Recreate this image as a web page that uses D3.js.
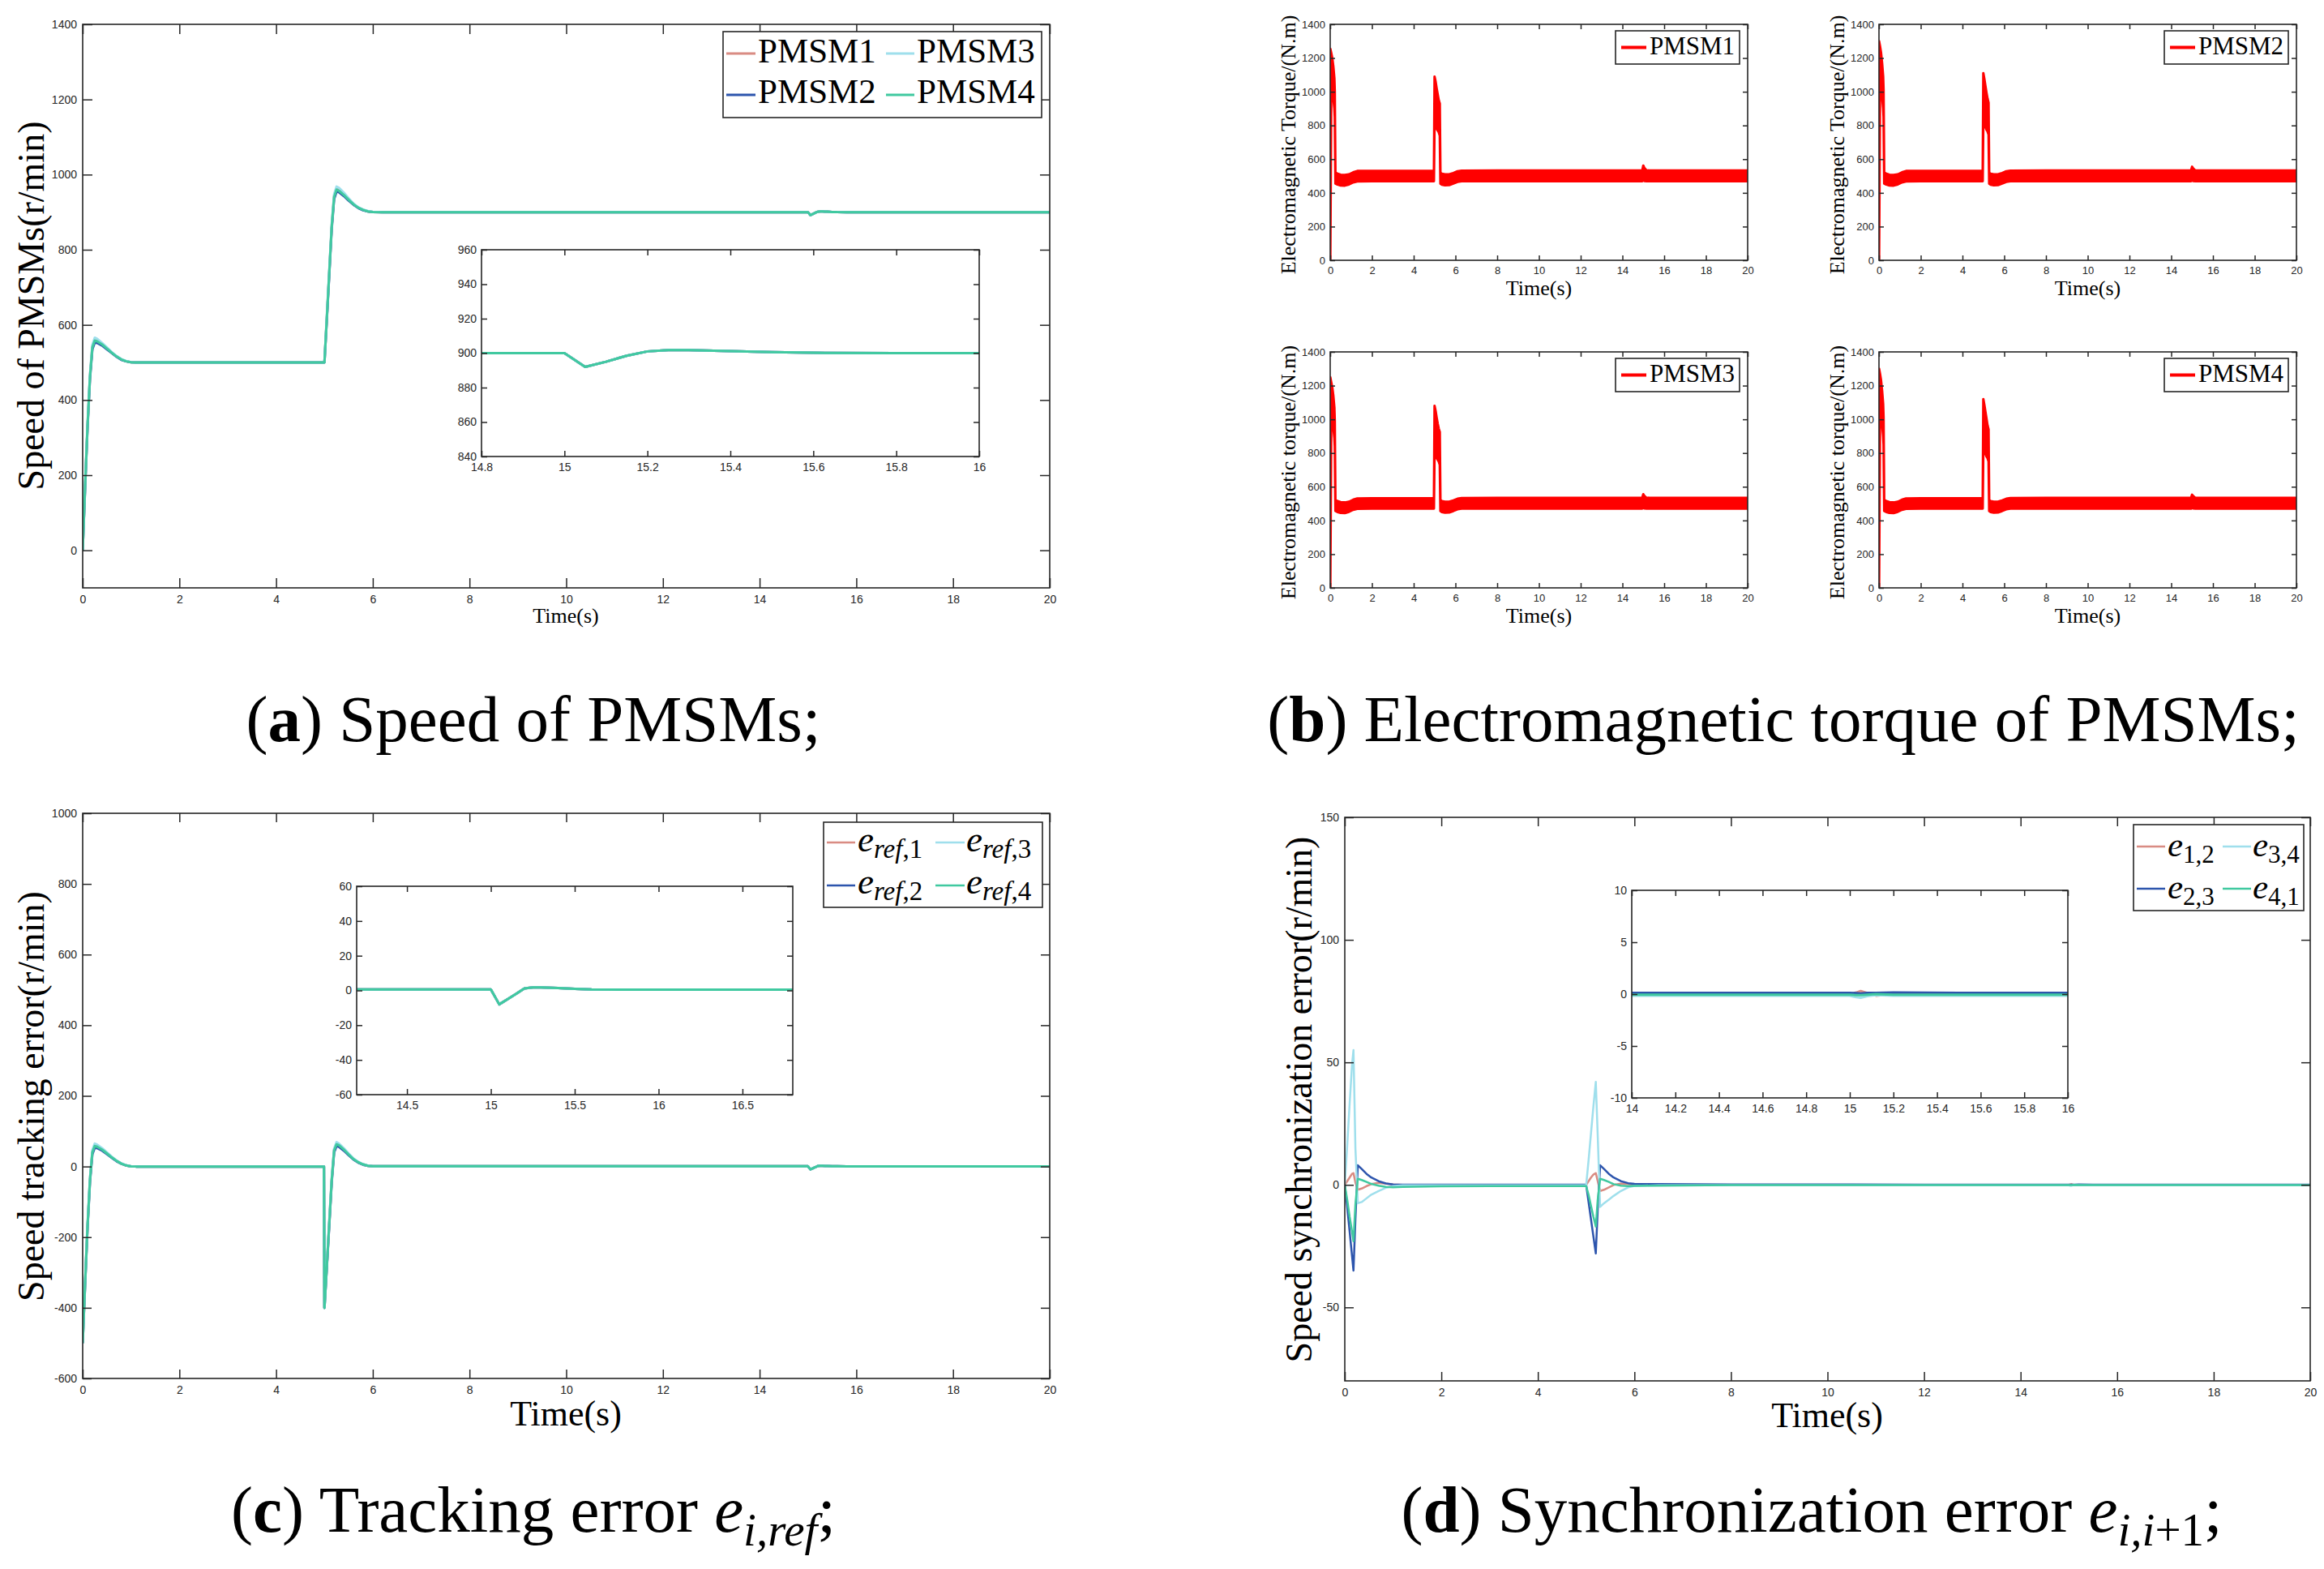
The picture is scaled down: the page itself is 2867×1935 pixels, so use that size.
<!DOCTYPE html>
<html>
<head>
<meta charset="utf-8">
<script src="https://cdn.jsdelivr.net/npm/d3@7"></script>
<style>
html, body { margin: 0; padding: 0; background: #fff; }
svg { display: block; }
</style>
</head>
<body>
<svg id="fig" width="2867" height="1935"></svg>
<script>
// ---- data ----

// (a) speed of the four motors, r/min
const speedTime = [0, 0.05, 0.1, 0.15, 0.2, 0.25, 0.3, 0.4, 0.5, 0.6, 0.7, 0.8, 0.9, 1.0, 1.1, 1.2, 2, 3, 4, 5,
  5.05, 5.1, 5.15, 5.2, 5.25, 5.3, 5.4, 5.5, 5.6, 5.7, 5.8, 5.9, 6.0, 6.2, 8, 10, 12, 14, 14.8,
  15, 15.05, 15.1, 15.15, 15.2, 15.25, 15.3, 15.4, 15.5, 15.6, 15.8, 16, 18, 20];
const speedPmsm1 = [0, 170, 330, 462, 542, 561, 559, 549, 538, 526, 516, 508, 503, 500.5, 500, 500, 500, 500, 500, 500,
  620, 740, 862, 943, 963, 960, 948, 934, 921, 912, 906, 902, 900.5, 900, 900, 900, 900, 900, 900,
  900, 892, 895, 898.5, 901, 901.8, 901.8, 901.2, 900.6, 900.2, 900, 900, 900, 900];
const speedPmsm2 = [0, 165, 325, 455, 535, 553, 552, 545, 535, 525, 515, 507, 503, 500.5, 500, 500, 500, 500, 500, 500,
  615, 735, 855, 935, 955, 953, 943, 931, 920, 911, 905, 902, 900.5, 900, 900, 900, 900, 900, 900,
  900, 892, 895, 898.5, 901, 901.8, 901.8, 901.2, 900.6, 900.2, 900, 900, 900, 900];
const speedPmsm3 = [0, 175, 335, 466, 547, 566, 563, 552, 540, 528, 517, 509, 504, 500.8, 500, 500, 500, 500, 500, 500,
  625, 745, 867, 948, 968, 965, 952, 937, 923, 913, 907, 903, 901, 900, 900, 900, 900, 900, 900,
  900, 892, 895, 898.5, 901, 901.8, 901.8, 901.2, 900.6, 900.2, 900, 900, 900, 900];
const speedPmsm4 = [0, 170, 330, 460, 540, 558, 556, 548, 537, 526, 516, 508, 503, 500.5, 500, 500, 500, 500, 500, 500,
  620, 740, 860, 940, 960, 957, 946, 933, 921, 912, 906, 902, 900.5, 900, 900, 900, 900, 900, 900,
  900, 892, 895, 898.5, 901, 901.8, 901.8, 901.2, 900.6, 900.2, 900, 900, 900, 900];

// (b) electromagnetic torque: lower / upper edge of the ripple band, N.m
const torqueTime = [0, 0.005, 0.05, 0.1, 0.15, 0.2, 0.22, 0.25, 0.35, 0.5, 0.7, 0.9, 1.1, 1.3, 2, 3, 4, 4.97,
  5.0, 5.05, 5.1, 5.15, 5.2, 5.25, 5.28, 5.35, 5.5, 5.7, 5.9, 6.1, 6.3, 8, 10, 12, 14,
  14.95, 15.0, 15.05, 15.15, 15.3, 16, 18, 20];
const torqueUpper1 = [1255, 1255, 1230, 1200, 1150, 1080, 1000, 520, 514, 508, 506, 510, 522, 530, 531, 531, 531, 531,
  1090, 1060, 1020, 985, 950, 930, 520, 514, 510, 510, 518, 528, 532, 533, 533, 533, 533,
  533, 562, 548, 534, 533, 533, 533, 533];
const torqueLower1 = [0, 0, 960, 990, 960, 900, 850, 455, 449, 444, 443, 450, 462, 468, 469, 469, 469, 469,
  820, 800, 780, 770, 760, 740, 455, 449, 445, 446, 455, 465, 469, 469, 469, 469, 469,
  469, 480, 470, 469, 469, 469, 469, 469];
const torqueUpper2 = [1300, 1300, 1270, 1230, 1170, 1090, 1010, 520, 514, 508, 506, 510, 522, 530, 531, 531, 531, 531,
  1110, 1075, 1035, 995, 960, 935, 520, 514, 510, 510, 518, 528, 532, 533, 533, 533, 533,
  533, 555, 545, 534, 533, 533, 533, 533];
const torqueLower2 = [0, 0, 980, 1000, 970, 900, 850, 455, 449, 444, 443, 450, 462, 468, 469, 469, 469, 469,
  830, 810, 790, 775, 765, 745, 455, 449, 445, 446, 455, 465, 469, 469, 469, 469, 469,
  469, 478, 470, 469, 469, 469, 469, 469];
const torqueUpper3 = [1250, 1250, 1220, 1190, 1140, 1070, 990, 522, 515, 509, 507, 511, 523, 531, 532, 532, 532, 532,
  1080, 1050, 1010, 975, 945, 925, 522, 515, 511, 511, 519, 529, 533, 534, 534, 534, 534,
  534, 556, 546, 535, 534, 534, 534, 534];
const torqueLower3 = [0, 0, 950, 980, 950, 890, 840, 456, 450, 445, 444, 451, 463, 469, 470, 470, 470, 470,
  810, 790, 770, 760, 750, 730, 456, 450, 446, 447, 456, 466, 470, 470, 470, 470, 470,
  470, 480, 471, 470, 470, 470, 470, 470];
const torqueUpper4 = [1300, 1300, 1270, 1230, 1170, 1090, 1010, 521, 515, 509, 507, 511, 523, 531, 532, 532, 532, 532,
  1120, 1085, 1045, 1005, 965, 940, 521, 515, 511, 511, 519, 529, 533, 534, 534, 534, 534,
  534, 553, 545, 535, 534, 534, 534, 534];
const torqueLower4 = [0, 0, 980, 1000, 970, 900, 850, 456, 450, 445, 444, 451, 463, 469, 470, 470, 470, 470,
  840, 815, 795, 780, 770, 750, 456, 450, 446, 447, 456, 466, 470, 470, 470, 470, 470,
  470, 479, 471, 470, 470, 470, 470, 470];

// (c) tracking error, r/min
const trackTime = [0, 0.05, 0.1, 0.15, 0.2, 0.25, 0.3, 0.4, 0.5, 0.6, 0.7, 0.8, 0.9, 1.0, 1.1, 1.2, 2, 3, 4, 4.99,
  5, 5.05, 5.1, 5.15, 5.2, 5.25, 5.3, 5.4, 5.5, 5.6, 5.7, 5.8, 5.9, 6.0, 6.2, 8, 10, 12, 14,
  15, 15.05, 15.1, 15.15, 15.2, 15.25, 15.3, 15.4, 15.5, 15.6, 15.8, 16, 18, 20];
const eRef1 = [-500, -330, -170, -38, 42, 60, 58, 49, 38, 26, 16, 8, 3, 0.5, 0, 0, 0, 0, 0, 0,
  -400, -280, -160, -38, 47, 65, 61, 49, 34, 21, 12, 6, 2, 0.8, 0.6, 0.6, 0.6, 0.6, 0.6,
  0.6, -8, -5, -2, 1.2, 1.8, 1.8, 1.4, 0.9, 0.6, 0.5, 0.5, 0.5, 0.5];
const eRef2 = [-500, -335, -175, -45, 35, 53, 52, 45, 35, 25, 15, 8, 3, 0.5, 0, 0, 0, 0, 0, 0,
  -400, -285, -165, -45, 40, 58, 56, 45, 32, 20, 11, 5, 2, 0.8, 0.6, 0.6, 0.6, 0.6, 0.6,
  0.6, -8, -5, -2, 1.2, 1.8, 1.8, 1.4, 0.9, 0.6, 0.5, 0.5, 0.5, 0.5];
const eRef3 = [-500, -325, -165, -35, 46, 65, 62, 52, 40, 28, 17, 9, 3.5, 0.8, 0, 0, 0, 0, 0, 0,
  -400, -275, -155, -33, 50, 69, 65, 52, 37, 23, 13, 6.5, 2.5, 1, 0.6, 0.6, 0.6, 0.6, 0.6,
  0.6, -8, -5, -2, 1.2, 1.8, 1.8, 1.4, 0.9, 0.6, 0.5, 0.5, 0.5, 0.5];
const eRef4 = [-500, -330, -170, -40, 40, 58, 56, 48, 37, 26, 16, 8, 3, 0.5, 0, 0, 0, 0, 0, 0,
  -400, -280, -160, -40, 45, 63, 60, 48, 34, 21, 12, 6, 2, 0.8, 0.6, 0.6, 0.6, 0.6, 0.6,
  0.6, -8, -5, -2, 1.2, 1.8, 1.8, 1.4, 0.9, 0.6, 0.5, 0.5, 0.5, 0.5];

// (d) synchronization error, r/min
const syncTime = [0, 0.05, 0.1, 0.15, 0.18, 0.22, 0.27, 0.35, 0.45, 0.55, 0.7, 0.85, 1.0, 1.2, 2, 3, 4, 5,
  5.05, 5.1, 5.15, 5.2, 5.24, 5.29, 5.37, 5.47, 5.57, 5.72, 5.87, 6.0, 6.5, 8, 10, 12, 14,
  14.5, 15, 15.03, 15.05, 15.08, 15.12, 15.2, 15.5, 16, 18, 20];
const e12 = [0, 1.5, 3, 4.5, 4.8, 1, -2, -1.5, -0.5, 0.3, 0.8, 0.5, 0.2, 0, 0, 0, 0, 0,
  1.5, 3, 4.2, 4.8, 1.5, -2.5, -2, -1, 0, 0.5, 0.3, 0.1, 0, 0, 0, 0, 0,
  0, 0, 0.15, 0.3, 0.1, -0.15, 0, 0, 0, 0, 0];
const e23 = [0, -9, -19, -29, -35, -14, 8, 6.5, 4.5, 3, 1.5, 0.6, 0.2, 0.1, 0.1, 0.1, 0.1, 0.1,
  -7, -14, -21, -28, -10, 8, 6.5, 4.5, 3, 1.5, 0.7, 0.4, 0.3, 0.2, 0.15, 0.12, 0.12,
  0.12, 0.12, 0.1, 0.05, 0.12, 0.12, 0.15, 0.12, 0.12, 0.1, 0.1];
const e34 = [0, 16, 33, 49, 55, 15, -7.5, -7, -5.5, -4, -2.5, -1.2, -0.5, -0.2, -0.2, -0.2, -0.2, -0.2,
  10, 21, 32, 42, 20, -9, -7.5, -6, -4.5, -2.5, -1, -0.4, -0.2, -0.15, -0.15, -0.15, -0.15,
  -0.15, -0.15, -0.3, -0.35, -0.2, -0.1, -0.15, -0.15, -0.15, -0.15, -0.15];
const e41 = [0, -6, -13, -19, -23, -8, 2.5, 2, 1.2, 0.4, -0.3, -0.8, -1, -0.8, -0.6, -0.5, -0.5, -0.5,
  -4, -8.5, -13, -17, -6, 2.5, 2, 1.2, 0.3, -0.3, -0.5, -0.4, -0.3, -0.1, -0.05, -0.05, -0.05,
  -0.05, -0.05, -0.1, -0.1, -0.05, 0, -0.05, -0.05, -0.05, -0.05, -0.05];

// tick values
const timeTicks = [0, 2, 4, 6, 8, 10, 12, 14, 16, 18, 20];
const speedTicks = [0, 200, 400, 600, 800, 1000, 1200, 1400];
const speedInsetX = [14.8, 15, 15.2, 15.4, 15.6, 15.8, 16];
const speedInsetY = [840, 860, 880, 900, 920, 940, 960];
const torqueTicks = [0, 200, 400, 600, 800, 1000, 1200, 1400];
const trackTicks = [-600, -400, -200, 0, 200, 400, 600, 800, 1000];
const trackInsetX = [14.5, 15, 15.5, 16, 16.5];
const trackInsetY = [-60, -40, -20, 0, 20, 40, 60];
const syncTicks = [-50, 0, 50, 100, 150];
const syncInsetX = [14, 14.2, 14.4, 14.6, 14.8, 15, 15.2, 15.4, 15.6, 15.8, 16];
const syncInsetY = [-10, -5, 0, 5, 10];

// labels
const speedNames = ['PMSM1', 'PMSM2', 'PMSM3', 'PMSM4'];
const torqueNames = ['PMSM1', 'PMSM2', 'PMSM3', 'PMSM4'];
const torqueYLabels = ['Electromagnetic  Torque/(N.m)', 'Electromagnetic  Torque/(N.m)',
  'Electromagnetic  torque/(N.m)', 'Electromagnetic  torque/(N.m)'];
const trackNames = [
  [{t: 'e', i: 1}, {t: 'ref', i: 1, s: 1}, {t: ',1', s: 1}],
  [{t: 'e', i: 1}, {t: 'ref', i: 1, s: 1}, {t: ',2', s: 1}],
  [{t: 'e', i: 1}, {t: 'ref', i: 1, s: 1}, {t: ',3', s: 1}],
  [{t: 'e', i: 1}, {t: 'ref', i: 1, s: 1}, {t: ',4', s: 1}]
];
const syncNames = [
  [{t: 'e', i: 1}, {t: '1,2', s: 1}],
  [{t: 'e', i: 1}, {t: '2,3', s: 1}],
  [{t: 'e', i: 1}, {t: '3,4', s: 1}],
  [{t: 'e', i: 1}, {t: '4,1', s: 1}]
];
const captions = [
  [{t: '('}, {t: 'a', b: 1}, {t: ') Speed of PMSMs;'}],
  [{t: '('}, {t: 'b', b: 1}, {t: ') Electromagnetic torque of PMSMs;'}],
  [{t: '('}, {t: 'c', b: 1}, {t: ') Tracking error '}, {t: 'e', i: 1}, {t: 'i,ref', i: 1, s: 1}, {t: ';'}],
  [{t: '('}, {t: 'd', b: 1}, {t: ') Synchronization error '}, {t: 'e', i: 1}, {t: 'i,i', i: 1, s: 1}, {t: '+1', s: 1}, {t: ';'}]
];

// ---- styles ----
const AX = '#262626';
const SANS = '"Liberation Sans", Arial, sans-serif';
const SERIF = '"Liberation Serif", "Times New Roman", serif';
const colors = ['#d98c83', '#2d55ad', '#9fdfec', '#40c9a0'];
const RED = '#ff0000';

const svg = d3.select('#fig');
svg.append('rect').attr('width', 2867).attr('height', 1935).attr('fill', '#fff');

let clipCount = 0;

function styleAxis(sel, fs) {
  sel.select('.domain').remove();
  sel.selectAll('.tick line').attr('stroke', AX).attr('stroke-width', 1.5);
  sel.selectAll('.tick text').attr('fill', AX).attr('font-size', fs).attr('font-family', SANS);
}

function drawAxes(box, o) {
  const g = svg.append('g');
  const x = d3.scaleLinear().domain(o.xDomain).range([box.x, box.x + box.w]);
  const y = d3.scaleLinear().domain(o.yDomain).range([box.y + box.h, box.y]);
  g.append('rect').attr('x', box.x).attr('y', box.y).attr('width', box.w).attr('height', box.h).attr('fill', '#fff');
  const id = 'clip' + (clipCount++);
  g.append('clipPath').attr('id', id).append('rect')
    .attr('x', box.x).attr('y', box.y).attr('width', box.w).attr('height', box.h);
  const plot = g.append('g').attr('clip-path', `url(#${id})`);
  const axes = g.append('g');
  const fmt = d => String(d);
  const none = () => '';
  axes.append('g').attr('transform', `translate(0,${box.y + box.h})`)
    .call(d3.axisBottom(x).tickValues(o.xTicks).tickFormat(fmt).tickSizeInner(-o.tick).tickSizeOuter(0).tickPadding(o.xPad))
    .call(styleAxis, o.fs);
  axes.append('g').attr('transform', `translate(0,${box.y})`)
    .call(d3.axisTop(x).tickValues(o.xTicks).tickFormat(none).tickSizeInner(-o.tick).tickSizeOuter(0))
    .call(styleAxis, o.fs);
  axes.append('g').attr('transform', `translate(${box.x},0)`)
    .call(d3.axisLeft(y).tickValues(o.yTicks).tickFormat(fmt).tickSizeInner(-o.tick).tickSizeOuter(0).tickPadding(o.yPad))
    .call(styleAxis, o.fs);
  axes.append('g').attr('transform', `translate(${box.x + box.w},0)`)
    .call(d3.axisRight(y).tickValues(o.yTicks).tickFormat(none).tickSizeInner(-o.tick).tickSizeOuter(0))
    .call(styleAxis, o.fs);
  axes.append('rect').attr('x', box.x).attr('y', box.y).attr('width', box.w).attr('height', box.h)
    .attr('fill', 'none').attr('stroke', AX).attr('stroke-width', 1.6);
  return {x, y, plot};
}

function drawLines(ax, time, seriesList, width) {
  const line = d3.line().x(d => ax.x(d[0])).y(d => ax.y(d[1]));
  seriesList.forEach((vals, i) => {
    ax.plot.append('path').datum(d3.zip(time, vals))
      .attr('d', line).attr('fill', 'none')
      .attr('stroke', colors[i]).attr('stroke-width', width)
      .attr('stroke-linejoin', 'round');
  });
}

function richText(sel, parts, size, subSize, shift) {
  let down = false;
  parts.forEach(p => {
    const ts = sel.append('tspan').text(p.t).attr('font-size', p.s ? subSize : size);
    if (p.i) ts.attr('font-style', 'italic');
    if (p.b) ts.attr('font-weight', 'bold');
    if (p.s && !down) { ts.attr('dy', shift); down = true; }
    else if (!p.s && down) { ts.attr('dy', -shift); down = false; }
  });
}

function yLabel(cx, cy, label, size) {
  svg.append('text').attr('transform', `translate(${cx},${cy}) rotate(-90)`)
    .attr('text-anchor', 'middle').attr('dy', '0.35em')
    .attr('font-family', SERIF).attr('font-size', size).attr('fill', '#000').text(label);
}

function xLabel(cx, by, label, size) {
  svg.append('text').attr('x', cx).attr('y', by).attr('text-anchor', 'middle')
    .attr('font-family', SERIF).attr('font-size', size).attr('fill', '#000').text(label);
}

// legend with two columns, filled column by column
function legend2(box, items, lay) {
  const g = svg.append('g');
  g.append('rect').attr('x', box.x).attr('y', box.y).attr('width', box.w).attr('height', box.h)
    .attr('fill', '#fff').attr('stroke', AX).attr('stroke-width', 1.6);
  items.forEach((label, i) => {
    const col = Math.floor(i / 2), row = i % 2;
    const lx = lay.lineX[col], ly = lay.lineY[row];
    g.append('line').attr('x1', lx[0]).attr('x2', lx[1]).attr('y1', ly).attr('y2', ly)
      .attr('stroke', colors[i]).attr('stroke-width', lay.lw);
    const t = g.append('text').attr('x', lay.textX[col]).attr('y', lay.textY[row])
      .attr('font-family', SERIF).attr('fill', '#000');
    if (typeof label === 'string') t.attr('font-size', lay.fs).text(label);
    else richText(t, label, lay.fs, lay.subFs, lay.shift);
  });
}

// ---- (a) speed ----
const boxA = {x: 102, y: 30, w: 1193, h: 695};
const axA = drawAxes(boxA, {xDomain: [0, 20], yDomain: [-100, 1400], xTicks: timeTicks, yTicks: speedTicks,
  tick: 12, fs: 14, xPad: 9, yPad: 7});
const speedSeries = [speedPmsm1, speedPmsm2, speedPmsm3, speedPmsm4];
drawLines(axA, speedTime, speedSeries, 3);
const axAi = drawAxes({x: 594, y: 308, w: 614, h: 255}, {xDomain: [14.8, 16], yDomain: [840, 960],
  xTicks: speedInsetX, yTicks: speedInsetY, tick: 7, fs: 14, xPad: 8, yPad: 6});
drawLines(axAi, speedTime, speedSeries, 3);
legend2({x: 892, y: 39, w: 393, h: 106}, speedNames, {
  lineX: [[896, 932], [1093, 1128]], lineY: [66, 117], textX: [935, 1131], textY: [77, 127], fs: 43, lw: 3
});
yLabel(38, 377, 'Speed of PMSMs(r/min)', 46);
xLabel(698, 768, 'Time(s)', 26);

// ---- (b) torque ----
const torqueBoxes = [
  {x: 1641, y: 30, w: 515, h: 291},
  {x: 2318, y: 30, w: 515, h: 291},
  {x: 1641, y: 434, w: 515, h: 291},
  {x: 2318, y: 434, w: 515, h: 291}
];
const torqueBands = [
  [torqueLower1, torqueUpper1],
  [torqueLower2, torqueUpper2],
  [torqueLower3, torqueUpper3],
  [torqueLower4, torqueUpper4]
];
torqueBoxes.forEach((box, k) => {
  const ax = drawAxes(box, {xDomain: [0, 20], yDomain: [0, 1400], xTicks: timeTicks, yTicks: torqueTicks,
    tick: 6, fs: 13, xPad: 8, yPad: 6});
  const area = d3.area().x(d => ax.x(d[0])).y0(d => ax.y(d[1])).y1(d => ax.y(d[2]));
  ax.plot.append('path').datum(d3.zip(torqueTime, torqueBands[k][0], torqueBands[k][1]))
    .attr('d', area).attr('fill', RED).attr('stroke', RED).attr('stroke-width', 3).attr('stroke-linejoin', 'round');
  // legend
  const lx = box.x + box.w - 163, ly = box.y + 8;
  const lg = svg.append('g');
  lg.append('rect').attr('x', lx).attr('y', ly).attr('width', 153).attr('height', 41)
    .attr('fill', '#fff').attr('stroke', AX).attr('stroke-width', 1.6);
  lg.append('line').attr('x1', lx + 7).attr('x2', lx + 38).attr('y1', ly + 20.5).attr('y2', ly + 20.5)
    .attr('stroke', RED).attr('stroke-width', 4);
  lg.append('text').attr('x', lx + 42).attr('y', ly + 29).attr('font-family', SERIF)
    .attr('font-size', 31).attr('fill', '#000').text(torqueNames[k]);
  yLabel(box.x - 52, box.y + box.h / 2 + 3, torqueYLabels[k], 26);
  xLabel(box.x + box.w / 2, box.y + box.h + 43, 'Time(s)', 26);
});

// ---- (c) tracking error ----
const boxC = {x: 102, y: 1003, w: 1193, h: 697};
const axC = drawAxes(boxC, {xDomain: [0, 20], yDomain: [-600, 1000], xTicks: timeTicks, yTicks: trackTicks,
  tick: 11, fs: 14, xPad: 9, yPad: 7});
const trackSeries = [eRef1, eRef2, eRef3, eRef4];
drawLines(axC, trackTime, trackSeries, 3);
const axCi = drawAxes({x: 440, y: 1093, w: 538, h: 257}, {xDomain: [14.2, 16.8], yDomain: [-60, 60],
  xTicks: trackInsetX, yTicks: trackInsetY, tick: 7, fs: 14, xPad: 8, yPad: 6});
drawLines(axCi, trackTime, trackSeries, 3);
legend2({x: 1016, y: 1014, w: 270, h: 105}, trackNames, {
  lineX: [[1020, 1055], [1154, 1190]], lineY: [1039, 1092], textX: [1058, 1192], textY: [1050, 1102],
  fs: 45, subFs: 33, shift: 8, lw: 2.5
});
yLabel(38, 1352, 'Speed tracking error(r/min)', 46);
xLabel(698, 1758, 'Time(s)', 44);

// ---- (d) synchronization error ----
const boxD = {x: 1659, y: 1008, w: 1191, h: 695};
const axD = drawAxes(boxD, {xDomain: [0, 20], yDomain: [-80, 150], xTicks: timeTicks, yTicks: syncTicks,
  tick: 11, fs: 14, xPad: 9, yPad: 7});
const syncSeries = [e12, e23, e34, e41];
drawLines(axD, syncTime, syncSeries, 2.5);
const axDi = drawAxes({x: 2013, y: 1098, w: 538, h: 256}, {xDomain: [14, 16], yDomain: [-10, 10],
  xTicks: syncInsetX, yTicks: syncInsetY, tick: 7, fs: 14, xPad: 8, yPad: 6});
drawLines(axDi, syncTime, syncSeries, 3);
legend2({x: 2632, y: 1017, w: 210, h: 106}, syncNames, {
  lineX: [[2636, 2671], [2742, 2777]], lineY: [1044, 1096], textX: [2674, 2779], textY: [1056, 1108],
  fs: 43, subFs: 31, shift: 8, lw: 2.5
});
yLabel(1602, 1356, 'Speed synchronization error(r/min)', 46);
xLabel(2254, 1760, 'Time(s)', 44);

// ---- captions ----
const capPos = [[658, 914], [2200, 914], [658, 1889], [2235, 1889]];
captions.forEach((parts, i) => {
  const t = svg.append('text').attr('x', capPos[i][0]).attr('y', capPos[i][1])
    .attr('text-anchor', 'middle').attr('font-family', SERIF).attr('fill', '#000');
  richText(t, parts, 81, 57, 17);
});
</script>
</body>
</html>
